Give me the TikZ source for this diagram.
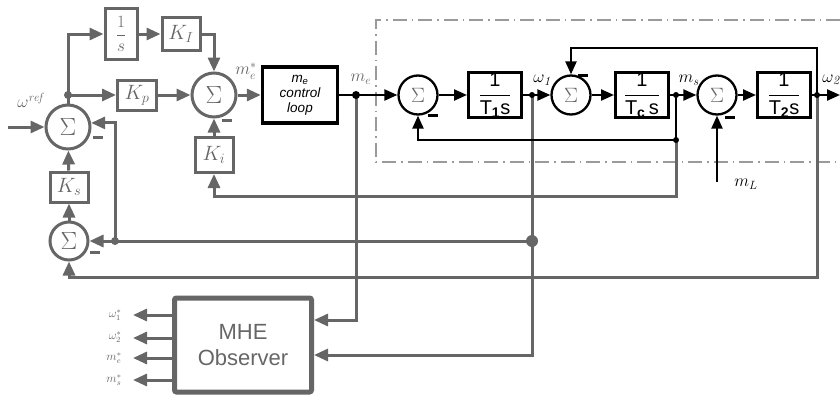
\documentclass[tikz,border=0pt]{standalone}
\usepackage{amsmath}
\usepackage{fontspec}
\setsansfont{Liberation Sans}
\usetikzlibrary{arrows.meta,calc}
\definecolor{lg}{HTML}{666666}
\definecolor{dd}{HTML}{9A9A9A}
\begin{document}
\begin{tikzpicture}[x=1pt,y=-1pt,
 gline/.style={draw=lg,line width=3pt},
 bline/.style={draw=black,line width=2.3pt},
 garr/.style={gline,-{Triangle[length=14pt,width=12pt]}},
 barr/.style={bline,-{Triangle[length=13pt,width=11pt]}},
 gsum/.style={circle,draw=lg,line width=3pt,minimum size=44pt,inner sep=0pt,text=lg,font=\fontsize{26}{26}\selectfont},
 bsum/.style={circle,draw=black,line width=2.3pt,minimum size=39pt,inner sep=0pt,text=lg,font=\fontsize{20}{20}\selectfont},
 gbox/.style={draw=lg,line width=3pt,text=lg,inner sep=0pt,font=\fontsize{20}{20}\selectfont},
 bbox/.style={draw=black,line width=3pt,inner sep=0pt,minimum width=53pt,minimum height=45pt,font=\sffamily\fontsize{20}{20}\selectfont},
 mclbox/.style={draw=black,line width=3.5pt,inner sep=0pt,minimum width=75pt,minimum height=56pt,align=center,font=\sffamily\itshape\fontsize{13.5}{15}\selectfont},
 mhebox/.style={draw=lg,line width=5pt,rounded corners=2pt,inner sep=0pt,minimum width=137pt,minimum height=94pt,align=center,text=lg,font=\sffamily\fontsize{22}{26}\selectfont},
 jdot/.style={circle,fill=#1,inner sep=0pt,minimum size=8pt},
 glabel/.style={text=lg,inner sep=0pt,font=\fontsize{17}{17}\selectfont},
 blabel/.style={text=black,inner sep=0pt,font=\fontsize{18}{18}\selectfont},
 olabel/.style={text=lg,inner sep=0pt,font=\fontsize{12}{12}\selectfont},
 minus/.style={line width=3pt},
 frame/.style={draw=dd,line width=1.7pt,dash pattern=on 14pt off 5pt on 1.5pt off 5pt}
]
\useasboundingbox (0,0) rectangle (840,394);

% dash-dot frame
\draw[frame] (840,20) -- (376,20) -- (376,162) -- (840,162);

% gray controller part
\node[gsum] (s1) at (68,127) {$\Sigma$};
\node[gsum] (s2) at (214,95) {$\Sigma$};
\node[gsum,minimum size=38pt] (s6) at (69,241) {$\Sigma$};
\node[gbox,minimum width=32pt,minimum height=51pt,font=\fontsize{16}{16}\selectfont] (binv) at (121,34) {$\displaystyle\frac{1}{s}$};
\node[gbox,minimum width=38pt,minimum height=33pt] (kI) at (181,34) {$K_I$};
\node[gbox,minimum width=39pt,minimum height=30pt] (kp) at (137,95) {$K_p$};
\node[gbox,minimum width=38pt,minimum height=35pt] (ki) at (214,155) {$K_i$};
\node[gbox,minimum width=38pt,minimum height=30pt] (ks) at (69,187) {$K_s$};
\node[mclbox] (mcl) at (300,95) {m\textsubscript{e}\\control\\loop};

% plant part
\node[bsum] (s3) at (418,95) {$\Sigma$};
\node[bbox] (t1) at (495,95) {$\displaystyle\frac{\textsf{1}}{\textsf{T}_{\textsf{\textbf{1}}}\textsf{s}}$};
\node[bsum] (s4) at (571,95) {$\Sigma$};
\node[bbox] (tc) at (642,95) {$\displaystyle\frac{\textsf{1}}{\textsf{T}_{\textsf{\textbf{c}}}\,\textsf{s}}$};
\node[bsum] (s5) at (717,95) {$\Sigma$};
\node[bbox] (t2) at (784,95) {$\displaystyle\frac{\textsf{1}}{\textsf{T}_{\textsf{\textbf{2}}}\textsf{s}}$};

% observer
\node[mhebox] (mhe) at (243,345) {MHE\\Observer};

% coordinates
\coordinate (j1) at (68,95);
\coordinate (jme) at (356,95);
\coordinate (jw1) at (532,95);
\coordinate (jms) at (676,95);
\coordinate (jw2) at (817,95);
\coordinate (jms2) at (676,140);
\coordinate (jw1b) at (532,241);
\coordinate (jx) at (115,241);
\coordinate (win) at (8,127);
\coordinate (wout) at (840,95);
\coordinate (mL) at (717,182);
\coordinate (c1) at (676,196);
\coordinate (c2) at (817,277);
\coordinate (c3) at (532,355);
\coordinate (c4) at (356,320);
\coordinate (c5) at (817,48);
\coordinate (o1) at (133,315);
\coordinate (o2) at (133,338);
\coordinate (o3) at (133,358);
\coordinate (o4) at (133,380);

% gray connectors
\draw[garr] (win) -- (s1);
\draw[gline] (s1.north) -- (j1);
\draw[garr] (j1) -- (kp);
\draw[garr] (j1) |- (binv.west);
\draw[garr] (binv) -- (kI);
\draw[garr] (kI.east) -| (s2.north);
\draw[garr] (kp) -- (s2);
\draw[garr] (s2) -- (mcl);
\draw[garr] (ki) -- (s2);
\draw[garr] (jms2) -- (c1) -| (ki.south);
\draw[garr] (jw2) -- (c2) -| (s6.south);
\draw[gline] (jw1) -- (jw1b);
\draw[garr] (jw1b) -- (c3) -- (mhe.east |- c3);
\draw[garr] (jw1b) -- (s6);
\draw[garr] (jx) |- (s1.10);
\draw[garr] (s6) -- (ks);
\draw[garr] (ks) -- (s1);
\draw[garr] (jme) -- (c4) -- (mhe.east |- c4);
\draw[garr] (mhe.west |- o1) -- (o1);
\draw[garr] (mhe.west |- o2) -- (o2);
\draw[garr] (mhe.west |- o3) -- (o3);
\draw[garr] (mhe.west |- o4) -- (o4);

% black connectors
\draw[bline] (mcl) -- (jme);
\draw[barr] (jme) -- (s3);
\draw[barr] (s3) -- (t1);
\draw[bline] (t1) -- (jw1);
\draw[barr] (jw1) -- (s4);
\draw[barr] (s4) -- (tc);
\draw[bline] (tc) -- (jms);
\draw[barr] (jms) -- (s5);
\draw[barr] (s5) -- (t2);
\draw[bline] (t2) -- (jw2);
\draw[barr] (jw2) -- (wout);
\draw[barr] (jw2) -- (c5) -| (s4.north);
\draw[bline] (jms) -- (jms2);
\draw[barr] (jms2) -| (s3.south);
\draw[barr] (mL) -- (s5);

% junction dots
\node[jdot=lg] at (j1) {};
\node[jdot=lg] at (jx) {};
\node[jdot=lg,minimum size=12pt] at (jw1b) {};
\node[jdot=black] at (jme) {};
\node[jdot=black,minimum size=6pt] at (jw1) {};
\node[jdot=black,minimum size=6pt] at (jms) {};
\node[jdot=black,minimum size=6pt] at (jw2) {};
\node[jdot=black,minimum size=6pt] at (jms2) {};

% minus signs
\draw[minus,lg] (93,137) -- (103,137);
\draw[minus,lg] (222,120) -- (232,120);
\draw[minus,lg] (90,252) -- (100,252);
\draw[minus] (428,115) -- (438,115);
\draw[minus] (578,75) -- (588,75);
\draw[minus] (725,117) -- (735,117);

% labels
\node[glabel] (lwref) at (30,100) {$\omega^{\mathit{ref}}$};
\node[glabel] (lmes) at (246,71) {$m_e^*$};
\node[glabel] (lme) at (361,79) {$m_e$};
\node[blabel] (lw1) at (542,80) {$\omega_{\mathit{1}}$};
\node[blabel] (lms) at (689,80) {$m_s$};
\node[blabel] (lw2) at (831,80) {$\omega_{\mathit{2}}$};
\node[blabel] (lmL) at (746,184) {$m_L$};
\node[olabel] (lo1) at (115,315) {$\omega_1^*$};
\node[olabel] (lo2) at (115,337) {$\omega_2^*$};
\node[olabel] (lo3) at (114,358) {$m_e^*$};
\node[olabel] (lo4) at (114,380) {$m_s^*$};
\end{tikzpicture}
\end{document}
